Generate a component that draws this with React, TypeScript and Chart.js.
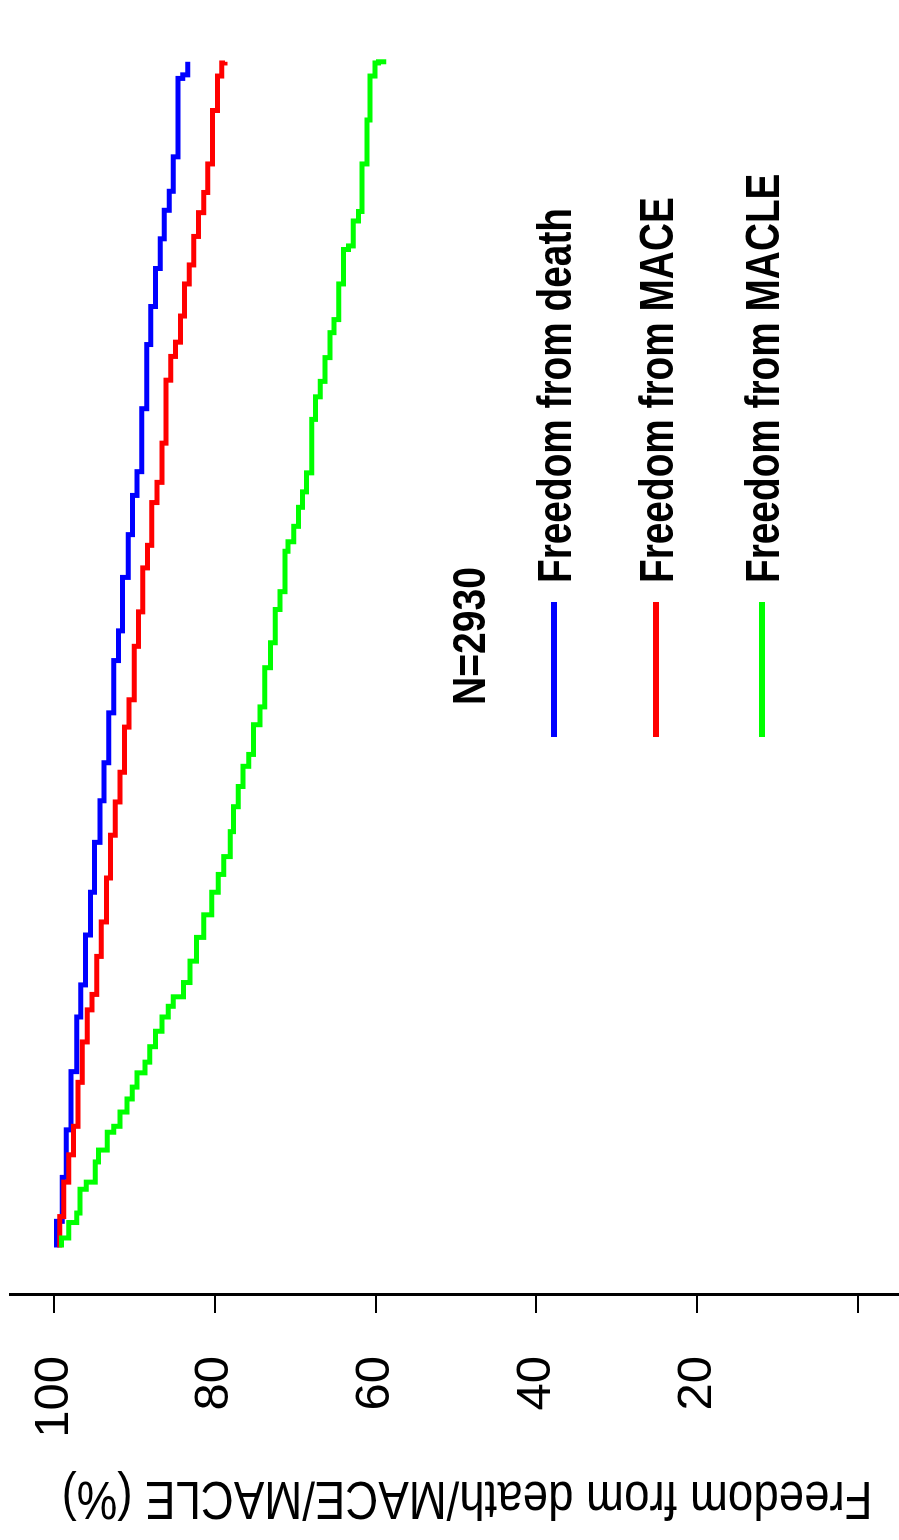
import React, { useEffect, useRef } from 'react';
import { Chart, registerables } from 'chart.js';

Chart.register(...registerables);

// ---- data (time in years, freedom in %) ----
const seriesLabels = ['Freedom from death', 'Freedom from MACE', 'Freedom from MACLE'];
const seriesColors = ['#0000ff', '#ff0000', '#00ff00'];

const deathTimes = [0, 0.22, 0.59, 0.99, 1.48, 1.94, 2.21, 2.63, 2.99, 3.41, 3.76, 4.08, 4.5, 4.94, 5.19, 5.64, 6.0, 6.33, 6.53, 7.06, 7.6, 7.92, 8.24, 8.49, 8.73, 8.89, 9.18, 9.84, 9.87, 9.98];
const deathValues = [99.7, 99.0, 98.5, 97.9, 97.2, 96.7, 96.1, 95.5, 95.0, 94.3, 93.8, 93.2, 92.6, 92.0, 91.5, 90.8, 90.25, 89.7, 89.1, 88.5, 88.0, 87.4, 86.8, 86.3, 85.7, 85.2, 84.6, 84.0, 83.4, 83.4];

const maceTimes = [0, 0.26, 0.55, 0.78, 1.02, 1.39, 1.73, 2.0, 2.13, 2.45, 2.74, 3.11, 3.47, 3.75, 4.0, 4.38, 4.61, 5.06, 5.35, 5.72, 5.91, 6.27, 6.44, 6.77, 7.3, 7.5, 7.62, 7.84, 8.11, 8.27, 8.51, 8.71, 8.88, 9.12, 9.57, 9.86, 9.97, 9.98];
const maceValues = [99.3, 98.8, 98.2, 97.6, 97.05, 96.5, 95.9, 95.3, 94.7, 94.15, 93.5, 93.0, 92.4, 91.8, 91.25, 90.7, 90.05, 89.5, 89.0, 88.4, 87.85, 87.2, 86.6, 86.1, 85.5, 84.9, 84.3, 83.8, 83.2, 82.65, 82.05, 81.4, 80.9, 80.3, 79.7, 79.15, 78.75, 78.75];

const macleTimes = [0, 0.08, 0.21, 0.29, 0.49, 0.55, 0.72, 0.82, 0.97, 1.02, 1.14, 1.25, 1.35, 1.47, 1.56, 1.69, 1.82, 1.94, 2.03, 2.11, 2.23, 2.41, 2.61, 2.8, 2.99, 3.14, 3.29, 3.5, 3.71, 3.88, 4.05, 4.15, 4.4, 4.55, 4.88, 5.09, 5.37, 5.52, 5.86, 5.94, 6.07, 6.23, 6.36, 6.52, 6.97, 7.16, 7.29, 7.49, 7.7, 7.81, 8.11, 8.4, 8.43, 8.64, 8.72, 9.12, 9.49, 9.86, 9.97, 9.98];
const macleValues = [99.1, 98.2, 97.2, 96.8, 96.0, 94.9, 94.5, 93.4, 92.6, 91.8, 90.95, 90.3, 89.7, 88.7, 88.1, 87.4, 86.6, 85.8, 85.2, 83.9, 83.1, 82.3, 81.4, 80.4, 79.6, 78.9, 78.1, 77.7, 77.1, 76.5, 75.8, 75.2, 74.4, 73.8, 73.1, 72.5, 71.9, 71.3, 70.9, 70.2, 69.6, 69.1, 68.6, 67.95, 67.5, 66.9, 66.3, 65.7, 65.2, 64.6, 64.0, 63.4, 62.8, 62.15, 61.7, 61.1, 60.7, 60.1, 59.65, 58.7];

const yTickValues = [0, 20, 40, 60, 80, 100];
const yTickLabels = ['', '20', '40', '60', '80', '100'];
const axisTitle = 'Freedom from death/MACE/MACLE (%)';
const sampleLabel = 'N=2930';

// ---- layout (unrotated canvas; the canvas is turned 90deg counter-clockwise on the page) ----
const W = 1540;
const H = 899;
const FONT = '"Liberation Sans", Arial, sans-serif';
const legendRowsY = [554, 656, 762];

const annotationPlugin = {
  id: 'kmAnnotations',
  afterDraw(chart: any) {
    const ctx = chart.ctx as CanvasRenderingContext2D;
    ctx.save();
    ctx.fillStyle = '#000';
    ctx.textBaseline = 'alphabetic';

    // axis title (vertical, reading bottom to top)
    ctx.save();
    ctx.translate(58, 467);
    ctx.rotate(-Math.PI / 2);
    ctx.font = `54px ${FONT}`;
    ctx.textAlign = 'center';
    const tw = ctx.measureText(axisTitle).width;
    ctx.scale(811 / tw, 1);
    ctx.fillText(axisTitle, 0, 0);
    ctx.restore();

    // N=
    ctx.textAlign = 'left';
    ctx.font = `bold 46px ${FONT}`;
    const nw = ctx.measureText(sampleLabel).width;
    ctx.save();
    ctx.translate(835, 485);
    ctx.scale(138 / nw, 1);
    ctx.fillText(sampleLabel, 0, 0);
    ctx.restore();

    // legend
    ctx.font = `bold 48px ${FONT}`;
    const sc = 375 / ctx.measureText(seriesLabels[0]).width;
    chart.data.datasets.forEach((ds: any, i: number) => {
      const ly = legendRowsY[i];
      ctx.strokeStyle = ds.borderColor;
      ctx.lineWidth = 6;
      ctx.lineCap = 'butt';
      ctx.beginPath();
      ctx.moveTo(803, ly);
      ctx.lineTo(938, ly);
      ctx.stroke();
      ctx.save();
      ctx.translate(957, ly + 17);
      ctx.scale(sc, 1);
      ctx.fillText(ds.label, 0, 0);
      ctx.restore();
    });
    ctx.restore();
  },
};

function makeData(times: number[], values: number[]) {
  return times.map((t, i) => ({ x: t, y: values[i] }));
}

export default function App() {
  const ref = useRef<HTMLCanvasElement>(null);

  useEffect(() => {
    if (!ref.current) return;
    const series = [
      makeData(deathTimes, deathValues),
      makeData(maceTimes, maceValues),
      makeData(macleTimes, macleValues),
    ];
    const chart = new Chart(ref.current, {
      type: 'line',
      data: {
        datasets: series.map((d, i) => ({
          label: seriesLabels[i],
          data: d,
          borderColor: seriesColors[i],
          backgroundColor: seriesColors[i],
          borderWidth: 5,
          stepped: 'before' as const,
          pointRadius: 0,
          fill: false,
          borderJoinStyle: 'miter' as const,
          borderCapStyle: 'butt' as const,
          order: 2 - i,
        })),
      },
      options: {
        animation: false,
        responsive: false,
        maintainAspectRatio: false,
        devicePixelRatio: 1,
        layout: { padding: { top: 10, bottom: 0, left: 0, right: 0 } },
        plugins: {
          legend: { display: false },
          tooltip: { enabled: false },
          title: { display: false },
        },
        scales: {
          x: {
            type: 'linear',
            min: -0.4,
            max: 10.5,
            display: false,
          },
          y: {
            type: 'linear',
            position: 'left',
            min: -5.1,
            max: 105.5,
            afterFit: (s: any) => {
              s.width = 245;
              s.paddingTop = 0;
              s.paddingBottom = 0;
            },
            afterBuildTicks: (s: any) => {
              s.ticks = yTickValues.map((v) => ({ value: v }));
            },
            border: { display: true, color: '#000', width: 3 },
            grid: {
              drawOnChartArea: false,
              drawTicks: true,
              tickLength: 18,
              color: '#000',
              lineWidth: 2,
            },
            ticks: {
              padding: 43,
              color: '#000',
              font: { family: FONT, size: 49 },
              callback: (v: any) => {
                const idx = yTickValues.indexOf(Number(v));
                return idx >= 0 ? yTickLabels[idx] : '';
              },
            },
          },
        },
      },
      plugins: [annotationPlugin],
    } as any);
    return () => chart.destroy();
  }, []);

  return (
    <div
      style={{
        position: 'absolute',
        left: 0,
        top: 0,
        width: H,
        height: W,
        overflow: 'hidden',
        background: '#fff',
      }}
    >
      <div
        style={{
          position: 'absolute',
          left: 0,
          top: 0,
          width: W,
          height: H,
          transformOrigin: '0 0',
          transform: `translateY(${W}px) rotate(-90deg)`,
        }}
      >
        <canvas ref={ref} width={W} height={H} style={{ display: 'block', width: W, height: H }} />
      </div>
    </div>
  );
}
